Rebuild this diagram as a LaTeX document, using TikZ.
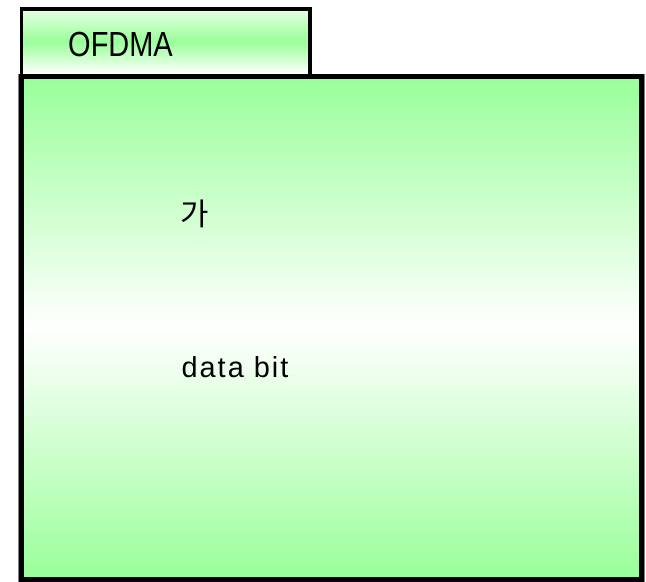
\documentclass[tikz,border=0pt]{standalone}
\usepackage{fontspec}
\setmainfont{Liberation Sans}
\newfontfamily\kofont{Noto Sans CJK KR}
\newfontfamily\spacedfont[LetterSpace=7]{Liberation Sans}
\definecolor{lgreen}{HTML}{99FF99}
\begin{document}
\begin{tikzpicture}[x=1bp,y=-1bp,
  frame/.style={draw=black},
  lbl/.style={inner sep=0pt,anchor=center}]
\useasboundingbox (0,0) rectangle (646,582);
% shadow outline
\draw[gray,line width=1.5] (19,75) rectangle (644.5,581.5);
% main box
\path[top color=lgreen,bottom color=lgreen,middle color=white] (21.5,76.5) rectangle (641,579.5);
\node[frame,line width=5,minimum width=619.5bp,minimum height=503bp,inner sep=0pt] (main) at (331.25,328) {};
% tab
\path[top color=lgreen!25!white,bottom color=white,middle color=lgreen] (21.5,9) rectangle (310,74);
\node[frame,line width=4,minimum width=288.5bp,minimum height=67.5bp,inner sep=0pt] (tab) at (165.75,42.75) {};
\node[lbl,font=\fontsize{35}{40}\selectfont,xscale=0.83] (t1) at (120.5,44.5) {OFDMA};
\node[lbl,font=\kofont\fontsize{31}{36}\selectfont] (t2) at (195,214) {가};
\node[lbl,anchor=base,font=\spacedfont\fontsize{29}{33}\selectfont] (t3) at (235,377) {data bit};
\end{tikzpicture}
\end{document}
